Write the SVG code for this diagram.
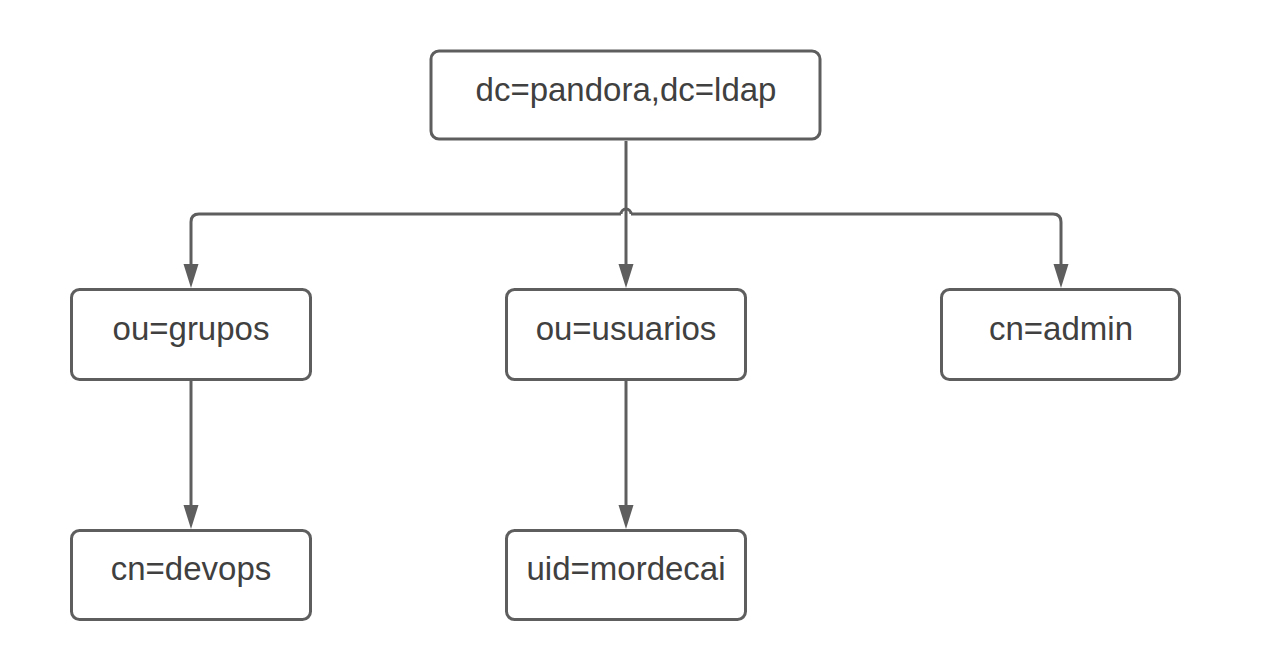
<svg xmlns="http://www.w3.org/2000/svg" width="1284" height="660" viewBox="0 0 1284 660">
<style>
.box{fill:#ffffff;stroke:#5e5e5e;stroke-width:3}
.lbl{font-family:"Liberation Sans",Arial,sans-serif;font-size:33px;fill:#404040;text-anchor:middle}
.con{fill:none;stroke:#5e5e5e;stroke-width:3}
</style>
<defs>
<marker id="arr" markerUnits="userSpaceOnUse" markerWidth="26" markerHeight="18" viewBox="0 0 26 18" refX="12" refY="9" orient="auto">
<path d="M0,1.5 L24,9 L0,16.5 Z" fill="#5e5e5e"/>
</marker>
</defs>
<rect width="1284" height="660" fill="#ffffff"/>
<g id="connectors">
<path class="con" d="M626,141 V276" marker-end="url(#arr)"/>
<path class="con" d="M621,214 H199 Q191,214 191,222 V276" marker-end="url(#arr)"/>
<path class="con" d="M631,214 H1053 Q1061,214 1061,222 V276" marker-end="url(#arr)"/>
<path class="con" d="M621,214 A5,5 0 0 1 631,214"/>
<path class="con" d="M191,381 V517" marker-end="url(#arr)"/>
<path class="con" d="M626,381 V517" marker-end="url(#arr)"/>
</g>
<g id="n-root">
<rect class="box" x="431" y="51" width="389" height="88" rx="8"/>
<text class="lbl" x="626" y="101">dc=pandora,dc=ldap</text>
</g>
<g id="n-grupos">
<rect class="box" x="71.5" y="289.5" width="239" height="90" rx="8"/>
<text class="lbl" x="191" y="340">ou=grupos</text>
</g>
<g id="n-usuarios">
<rect class="box" x="506.5" y="289.5" width="239" height="90" rx="8"/>
<text class="lbl" x="626" y="340">ou=usuarios</text>
</g>
<g id="n-admin">
<rect class="box" x="941.5" y="289.5" width="238" height="90" rx="8"/>
<text class="lbl" x="1061" y="340">cn=admin</text>
</g>
<g id="n-devops">
<rect class="box" x="71.5" y="530.5" width="239" height="89" rx="8"/>
<text class="lbl" x="191" y="580">cn=devops</text>
</g>
<g id="n-mordecai">
<rect class="box" x="506.5" y="530.5" width="239" height="89" rx="8"/>
<text class="lbl" x="626" y="580">uid=mordecai</text>
</g>
</svg>
